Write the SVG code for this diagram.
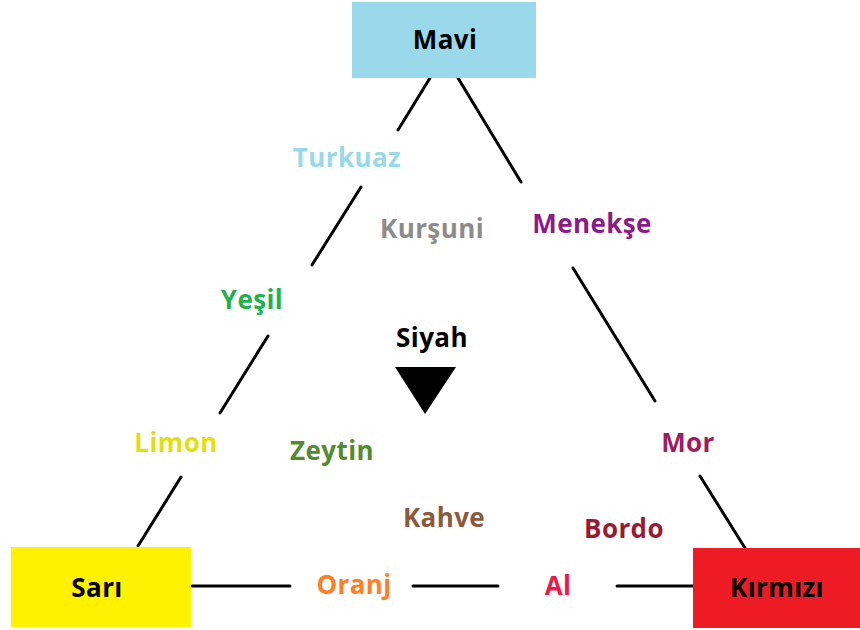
<svg xmlns="http://www.w3.org/2000/svg" width="860" height="630" viewBox="0 0 860 630">
<style>
text{font-family:"Open Sans","Liberation Sans",sans-serif;font-weight:bold;font-size:26px;letter-spacing:0.4px;text-anchor:middle;dominant-baseline:central}
.edge{stroke:#000;stroke-width:3;fill:none;stroke-linecap:round}
</style>
<rect width="860" height="630" fill="#fff"/>
<g id="connectors">
<line class="edge" x1="430" y1="78" x2="398" y2="130"/>
<line class="edge" x1="361" y1="187" x2="312" y2="265"/>
<line class="edge" x1="268" y1="336" x2="220" y2="413"/>
<line class="edge" x1="181" y1="477" x2="138" y2="546"/>
<line class="edge" x1="458" y1="78" x2="521" y2="182"/>
<line class="edge" x1="573" y1="268" x2="655" y2="401"/>
<line class="edge" x1="700" y1="476" x2="745" y2="548"/>
<line class="edge" x1="192" y1="586" x2="290" y2="586"/>
<line class="edge" x1="413" y1="586" x2="498" y2="586"/>
<line class="edge" x1="617" y1="586" x2="693" y2="586"/>
</g>
<g id="mavi"><rect x="352" y="2" width="184" height="76" fill="#99d9ea"/><text x="445" y="39" fill="#000">Mavi</text></g>
<g id="sari"><rect x="11" y="547" width="180" height="80" fill="#fff200"/><text x="97" y="587" fill="#000">Sarı</text></g>
<g id="kirmizi"><rect x="693" y="548" width="167" height="80" fill="#ed1c24"/><text x="777" y="587" fill="#000">Kırmızı</text></g>
<g id="turkuaz"><text x="347" y="157" fill="#99d9ea">Turkuaz</text></g>
<g id="kursuni"><text x="432" y="228" fill="#8c8c8c">Kurşuni</text></g>
<g id="menekse"><text x="592" y="223" fill="#8b1a8b">Menekşe</text></g>
<g id="yesil"><text x="252" y="299" fill="#22b14c">Yeşil</text></g>
<g id="siyah"><text x="432" y="337" fill="#000">Siyah</text><polygon points="395,367 456,367 425,414" fill="#000"/></g>
<g id="limon"><text x="176" y="442" fill="#e0e010">Limon</text></g>
<g id="zeytin"><text x="332" y="450" fill="#548a30">Zeytin</text></g>
<g id="mor"><text x="688" y="442" fill="#a01c60">Mor</text></g>
<g id="kahve"><text x="444" y="517" fill="#8b5a3c">Kahve</text></g>
<g id="bordo"><text x="624" y="528" fill="#991b30">Bordo</text></g>
<g id="oranj"><text x="354" y="584" fill="#ff7f27">Oranj</text></g>
<g id="al"><text x="558" y="585" fill="#f0184a">Al</text></g>
</svg>
